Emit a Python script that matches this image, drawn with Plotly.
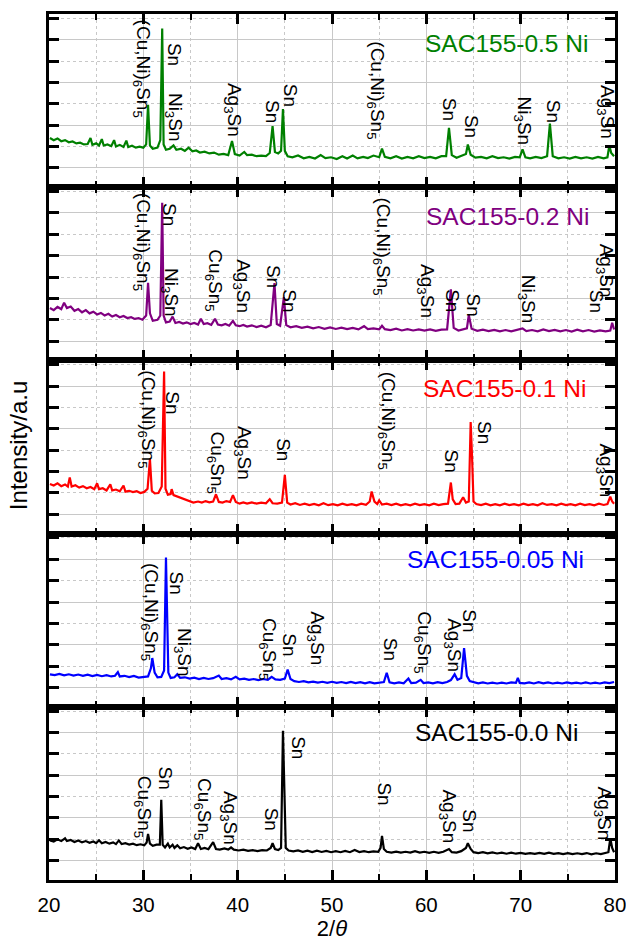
import plotly.graph_objects as go
from plotly.subplots import make_subplots

# ---------------- data (2theta in degrees, intensity in arbitrary panel units) ----------------
green_pts = [(20.1,2.40),(20.5,2.30),(20.9,2.38),(21.3,2.25),(21.7,2.30),(22.1,2.20),(22.5,2.24),(22.9,2.15),(23.3,2.18),(23.7,2.10),(24.1,2.12),(24.4,2.40),(24.6,2.08),(25.0,2.15),(25.3,2.05),(25.6,2.35),(25.8,2.05),(26.2,2.10),(26.6,2.02),(26.9,2.30),(27.1,2.00),(27.5,2.08),(27.9,1.98),(28.2,2.28),(28.4,1.98),(28.8,2.04),(29.2,1.95),(29.6,2.00),(30.0,1.95),(30.3,2.10),(30.5,3.95),(30.7,2.05),(31.0,1.90),(31.5,1.95),(31.8,2.30),(32.0,7.52),(32.15,2.10),(32.4,1.85),(32.8,1.90),(33.2,2.05),(33.5,1.85),(34.0,1.90),(34.4,1.80),(34.8,1.95),(35.2,1.78),(35.6,1.82),(36.0,1.72),(36.5,1.76),(37.0,1.68),(37.5,1.72),(38.0,1.62),(38.5,1.66),(39.0,1.60),(39.4,2.26),(39.7,1.65),(40.2,1.58),(40.7,1.75),(41.0,1.60),(41.5,1.62),(42.0,1.55),(42.5,1.58),(43.0,1.55),(43.4,1.70),(43.7,2.96),(43.95,1.75),(44.3,1.68),(44.6,1.80),(44.8,3.75),(45.0,1.80),(45.3,1.55),(45.8,1.50),(46.4,1.58),(47.0,1.45),(47.6,1.52),(48.2,1.44),(48.8,1.60),(49.3,1.46),(49.9,1.50),(50.5,1.42),(51.1,1.55),(51.6,1.44),(52.2,1.58),(52.7,1.45),(53.3,1.52),(53.8,1.46),(54.4,1.58),(55.0,1.50),(55.3,1.90),(55.6,1.52),(56.2,1.45),(56.8,1.55),(57.4,1.44),(58.0,1.52),(58.6,1.45),(59.2,1.55),(59.8,1.46),(60.4,1.52),(61.0,1.45),(61.6,1.55),(62.1,1.55),(62.4,2.88),(62.7,1.60),(63.2,1.48),(63.8,1.58),(64.2,1.65),(64.4,2.10),(64.7,1.62),(65.2,1.48),(65.8,1.52),(66.4,1.45),(67.0,1.55),(67.6,1.46),(68.2,1.50),(68.8,1.44),(69.4,1.52),(69.9,1.50),(70.2,1.87),(70.5,1.50),(71.0,1.45),(71.6,1.52),(72.2,1.46),(72.8,1.55),(73.1,3.07),(73.4,1.55),(74.0,1.45),(74.6,1.50),(75.2,1.44),(75.8,1.52),(76.4,1.45),(77.0,1.50),(77.6,1.44),(78.2,1.52),(78.8,1.45),(79.2,1.50),(79.4,2.05),(79.6,1.70),(79.9,1.55)]

purple_pts = [(20.1,2.55),(20.5,2.45),(20.9,2.60),(21.3,2.50),(21.6,2.80),(21.9,2.55),(22.3,2.62),(22.7,2.42),(23.1,2.50),(23.5,2.35),(23.9,2.45),(24.3,2.30),(24.7,2.38),(25.1,2.25),(25.5,2.32),(25.9,2.20),(26.3,2.28),(26.7,2.15),(27.1,2.22),(27.5,2.12),(27.9,2.18),(28.3,2.08),(28.7,2.12),(29.1,2.04),(29.5,2.08),(29.9,2.00),(30.3,2.20),(30.5,3.73),(30.7,2.30),(31.0,1.95),(31.5,2.00),(31.8,2.20),(32.0,7.47),(32.15,2.20),(32.4,1.88),(32.8,1.92),(33.1,2.15),(33.4,1.85),(33.8,1.90),(34.2,1.82),(34.6,1.88),(35.0,1.80),(35.4,1.85),(35.8,1.78),(36.1,2.05),(36.4,1.80),(36.8,1.84),(37.2,1.76),(37.6,2.05),(37.9,1.78),(38.3,1.74),(38.7,1.80),(39.1,1.72),(39.5,1.95),(39.8,1.74),(40.2,1.70),(40.6,1.76),(41.0,1.68),(41.5,1.74),(42.0,1.66),(42.5,1.72),(43.0,1.65),(43.5,1.75),(43.9,3.72),(44.15,1.80),(44.5,1.72),(44.9,3.06),(45.15,1.75),(45.6,1.65),(46.2,1.70),(46.8,1.62),(47.4,1.68),(48.0,1.60),(48.6,1.66),(49.2,1.58),(49.8,1.64),(50.4,1.57),(51.0,1.63),(51.6,1.56),(52.2,1.62),(52.8,1.55),(53.4,1.70),(53.8,1.56),(54.4,1.60),(55.0,1.55),(55.3,1.72),(55.6,1.56),(56.2,1.52),(56.8,1.58),(57.4,1.50),(58.0,1.56),(58.6,1.50),(59.2,1.55),(59.8,1.49),(60.4,1.55),(61.0,1.48),(61.6,1.54),(62.2,1.55),(62.6,3.42),(62.9,1.62),(63.4,1.50),(63.9,1.56),(64.3,1.60),(64.5,2.22),(64.8,1.58),(65.4,1.48),(66.0,1.54),(66.6,1.47),(67.2,1.53),(67.8,1.46),(68.4,1.52),(69.0,1.46),(69.6,1.52),(70.2,1.60),(70.6,1.47),(71.2,1.52),(71.8,1.46),(72.4,1.55),(73.0,1.47),(73.6,1.53),(74.2,1.46),(74.8,1.52),(75.4,1.45),(76.0,1.54),(76.6,1.46),(77.2,1.52),(77.8,1.45),(78.4,1.50),(79.0,1.46),(79.5,1.50),(79.7,1.86),(79.9,1.55)]

red_pts = [(20.1,2.42),(20.5,2.35),(20.9,2.45),(21.3,2.32),(21.7,2.40),(22.0,2.30),(22.2,2.73),(22.4,2.30),(22.8,2.36),(23.2,2.25),(23.6,2.32),(24.0,2.22),(24.4,2.28),(24.8,2.18),(25.1,2.45),(25.3,2.18),(25.7,2.22),(26.1,2.12),(26.5,2.40),(26.7,2.12),(27.1,2.16),(27.5,2.08),(27.9,2.35),(28.1,2.06),(28.5,2.10),(28.9,2.04),(29.3,2.08),(29.7,2.00),(30.1,2.05),(30.45,2.20),(30.7,3.59),(30.9,2.10),(31.2,1.98),(31.6,2.00),(31.95,2.30),(32.2,7.68),(32.35,2.20),(32.6,1.92),(32.9,1.95),(33.0,2.18),(33.2,1.90),(33.6,1.84),(34.0,1.78),(34.4,1.72),(34.8,1.66),(35.3,1.55),(35.8,1.60),(36.2,1.55),(36.6,1.62),(37.0,1.56),(37.4,1.60),(37.7,1.94),(38.0,1.58),(38.4,1.55),(38.8,1.62),(39.2,1.58),(39.5,1.90),(39.8,1.58),(40.2,1.50),(40.6,1.56),(41.0,1.50),(41.5,1.56),(42.0,1.50),(42.5,1.55),(43.0,1.52),(43.4,1.71),(43.7,1.52),(44.2,1.50),(44.7,1.55),(45.0,2.85),(45.25,1.55),(45.6,1.46),(46.1,1.52),(46.6,1.44),(47.1,1.50),(47.6,1.43),(48.1,1.49),(48.6,1.42),(49.1,1.52),(49.6,1.43),(50.1,1.48),(50.6,1.42),(51.1,1.50),(51.6,1.43),(52.1,1.48),(52.6,1.42),(53.1,1.50),(53.6,1.45),(54.0,1.60),(54.2,2.07),(54.5,1.60),(54.8,1.48),(55.0,1.65),(55.3,1.46),(55.8,1.50),(56.3,1.43),(56.8,1.50),(57.3,1.42),(57.8,1.48),(58.3,1.42),(58.8,1.50),(59.3,1.43),(59.8,1.48),(60.3,1.42),(60.8,1.50),(61.3,1.43),(61.8,1.48),(62.3,1.50),(62.6,2.49),(62.8,1.70),(63.1,1.48),(63.5,1.50),(63.9,1.80),(64.2,1.55),(64.5,1.60),(64.7,5.32),(64.85,3.65),(65.0,1.60),(65.3,1.48),(65.8,1.43),(66.3,1.50),(66.8,1.42),(67.3,1.48),(67.8,1.42),(68.3,1.50),(68.8,1.43),(69.3,1.48),(69.8,1.42),(70.3,1.50),(70.8,1.43),(71.3,1.48),(71.8,1.42),(72.3,1.52),(72.8,1.44),(73.3,1.48),(73.8,1.42),(74.3,1.50),(74.8,1.43),(75.3,1.48),(75.8,1.42),(76.3,1.50),(76.8,1.43),(77.3,1.48),(77.8,1.42),(78.3,1.50),(78.8,1.44),(79.2,1.48),(79.5,1.83),(79.7,1.60),(79.9,1.50)]

blue_pts = [(20.1,1.62),(20.6,1.58),(21.1,1.64),(21.6,1.57),(22.1,1.62),(22.6,1.56),(23.1,1.61),(23.6,1.55),(24.1,1.60),(24.6,1.54),(25.1,1.59),(25.6,1.53),(26.1,1.58),(26.6,1.52),(27.0,1.55),(27.3,1.72),(27.5,1.52),(28.0,1.55),(28.5,1.49),(29.0,1.54),(29.5,1.47),(30.0,1.50),(30.5,1.52),(30.8,1.90),(30.95,2.38),(31.2,1.70),(31.5,1.48),(31.9,1.50),(32.2,1.80),(32.4,7.08),(32.5,4.90),(32.65,1.70),(32.9,1.45),(33.3,1.48),(33.6,1.62),(33.9,1.45),(34.4,1.48),(34.9,1.42),(35.4,1.46),(35.9,1.40),(36.4,1.45),(36.9,1.40),(37.4,1.44),(38.0,1.56),(38.3,1.40),(38.8,1.44),(39.3,1.38),(39.8,1.50),(40.2,1.38),(40.7,1.42),(41.2,1.36),(41.7,1.40),(42.2,1.35),(42.7,1.40),(43.2,1.36),(43.6,1.50),(44.0,1.38),(44.5,1.36),(45.0,1.42),(45.3,1.84),(45.6,1.40),(46.0,1.30),(46.5,1.26),(47.0,1.30),(47.5,1.24),(48.0,1.28),(48.5,1.23),(49.0,1.27),(49.5,1.22),(50.0,1.27),(50.5,1.22),(51.0,1.26),(51.5,1.21),(52.0,1.26),(52.5,1.21),(53.0,1.25),(53.5,1.20),(54.0,1.25),(54.5,1.20),(55.0,1.24),(55.5,1.26),(55.8,1.69),(56.1,1.25),(56.6,1.20),(57.1,1.24),(57.6,1.20),(58.1,1.42),(58.4,1.21),(58.9,1.23),(59.4,1.36),(59.7,1.21),(60.2,1.24),(60.7,1.20),(61.2,1.25),(61.7,1.21),(62.2,1.26),(62.6,1.35),(63.0,1.62),(63.3,1.36),(63.7,1.45),(64.0,2.84),(64.15,2.20),(64.3,1.55),(64.6,1.30),(65.0,1.24),(65.5,1.20),(66.0,1.24),(66.5,1.19),(67.0,1.23),(67.5,1.19),(68.0,1.23),(68.5,1.19),(69.0,1.24),(69.5,1.22),(69.7,1.45),(69.9,1.22),(70.4,1.20),(70.9,1.24),(71.4,1.19),(71.9,1.25),(72.4,1.20),(72.9,1.24),(73.4,1.19),(73.9,1.23),(74.4,1.19),(74.9,1.24),(75.4,1.20),(75.9,1.23),(76.4,1.19),(76.9,1.24),(77.4,1.19),(77.9,1.23),(78.4,1.19),(78.9,1.24),(79.4,1.21),(79.9,1.26)]

black_pts = [(20.1,1.95),(20.5,1.90),(20.9,2.00),(21.3,1.92),(21.7,2.05),(21.9,1.92),(22.3,1.97),(22.7,1.88),(23.1,1.95),(23.5,1.86),(23.9,1.92),(24.3,1.84),(24.7,1.90),(25.0,1.82),(25.3,1.96),(25.6,1.82),(26.0,1.88),(26.4,1.80),(26.8,1.86),(27.1,1.78),(27.4,1.95),(27.7,1.78),(28.1,1.82),(28.5,1.76),(28.9,1.80),(29.3,1.73),(29.7,1.77),(30.1,1.72),(30.35,1.85),(30.5,2.25),(30.7,1.80),(31.0,1.70),(31.4,1.75),(31.75,1.75),(31.9,3.85),(32.05,1.75),(32.3,1.62),(32.6,1.80),(32.8,1.62),(33.1,1.75),(33.3,1.60),(33.6,1.72),(33.9,1.58),(34.3,1.64),(34.7,1.56),(35.1,1.62),(35.5,1.55),(35.8,1.82),(36.1,1.55),(36.5,1.60),(36.9,1.54),(37.4,1.87),(37.7,1.55),(38.1,1.52),(38.6,1.58),(39.0,1.52),(39.3,1.62),(39.6,1.52),(40.1,1.48),(40.6,1.52),(41.1,1.46),(41.6,1.50),(42.1,1.45),(42.6,1.50),(43.1,1.48),(43.5,1.60),(43.7,1.82),(43.95,1.55),(44.3,1.50),(44.6,1.60),(44.8,7.08),(44.95,4.60),(45.1,1.60),(45.4,1.48),(45.9,1.44),(46.4,1.48),(46.9,1.42),(47.4,1.47),(47.9,1.41),(48.4,1.47),(48.9,1.41),(49.4,1.46),(49.9,1.40),(50.4,1.45),(50.9,1.40),(51.4,1.46),(51.9,1.40),(52.4,1.50),(52.9,1.41),(53.4,1.45),(53.9,1.40),(54.4,1.44),(54.9,1.42),(55.15,1.60),(55.3,2.16),(55.5,1.55),(55.8,1.42),(56.3,1.38),(56.8,1.43),(57.3,1.38),(57.8,1.42),(58.3,1.38),(58.8,1.45),(59.3,1.38),(59.8,1.42),(60.3,1.37),(60.8,1.42),(61.3,1.37),(61.8,1.42),(62.4,1.55),(62.7,1.40),(63.2,1.38),(63.7,1.45),(64.2,1.60),(64.4,1.82),(64.7,1.55),(65.0,1.40),(65.5,1.36),(66.0,1.40),(66.5,1.35),(67.0,1.39),(67.5,1.34),(68.0,1.38),(68.5,1.33),(69.0,1.38),(69.5,1.33),(70.0,1.37),(70.5,1.32),(71.0,1.36),(71.5,1.32),(72.0,1.37),(72.5,1.32),(73.0,1.38),(73.5,1.32),(74.0,1.36),(74.5,1.31),(75.0,1.36),(75.5,1.31),(76.0,1.35),(76.5,1.31),(77.0,1.36),(77.5,1.30),(78.0,1.35),(78.5,1.31),(79.0,1.35),(79.3,1.40),(79.5,2.05),(79.7,1.60),(79.9,1.40)]

CUNI = "(Cu,Ni)<sub>6</sub>Sn<sub>5</sub>"
CU6 = "Cu<sub>6</sub>Sn<sub>5</sub>"
AG3 = "Ag<sub>3</sub>Sn"
NI3 = "Ni<sub>3</sub>Sn"
SN = "Sn"

# phase labels: text, x (deg) of label centre, y (panel units) of label top
green_labels = [(CUNI,29.8,8.01),(SN,33.25,6.92),(NI3,33.25,4.58),(AG3,39.45,5.05),(SN,43.7,4.27),(SN,45.55,5.05),
                (CUNI,54.7,7.00),(SN,62.4,4.35),(SN,64.8,3.57),(NI3,70.2,4.43),(SN,73.5,4.27),(AG3,79.05,4.97)]
purple_labels = [(CUNI,29.8,8.01),(SN,32.7,7.54),(NI3,32.8,4.50),(CU6,37.4,5.38),(AG3,40.5,4.91),(SN,43.75,4.68),
                 (SN,45.4,3.51),(CUNI,55.3,7.81),(AG3,59.9,4.68),(SN,62.7,3.51),(SN,65.1,3.32),(NI3,70.7,4.21),
                 (AG3,78.9,5.67),(SN,78.0,3.51)]
red_labels = [(CUNI,30.45,7.85),(SN,33.0,6.84),(CU6,37.7,4.97),(AG3,40.5,5.21),(SN,44.85,4.66),
              (CUNI,55.8,7.78),(SN,62.7,4.11),(SN,66.1,5.44),(AG3,78.9,4.43)]
blue_labels = [(CUNI,30.7,6.92),(SN,33.5,6.53),(NI3,34.15,3.88),(CU6,43.2,4.35),(SN,45.55,3.65),(AG3,48.3,4.66),
               (SN,56.2,3.42),(CU6,59.65,4.66),(AG3,62.8,4.35),(SN,64.6,4.74)]
black_labels = [(CU6,29.9,5.05),(SN,32.3,5.52),(CU6,36.3,4.97),(AG3,39.1,4.35),(SN,43.6,3.57),(SN,46.45,6.92),
                (SN,55.6,4.74),(AG3,62.3,4.43),(SN,64.6,3.49),(AG3,78.7,4.58)]

sample_names = ["SAC155-0.5 Ni", "SAC155-0.2 Ni", "SAC155-0.1 Ni", "SAC155-0.05 Ni", "SAC155-0.0 Ni"]
sample_colors = ["#008000", "#800080", "#ff0000", "#0000ff", "#000000"]
name_pos = [(77.35, 6.83), (77.45, 6.83), (77.15, 6.90), (76.93, 7.01), (76.3, 6.98)]
series = [green_pts, purple_pts, red_pts, blue_pts, black_pts]
labels = [green_labels, purple_labels, red_labels, blue_labels, black_labels]

x_ticks = [20, 30, 40, 50, 60, 70, 80]

FONT = "Liberation Sans, Arial, Helvetica, sans-serif"
GRID = "#c8c8c8"

fig = make_subplots(rows=5, cols=1, vertical_spacing=0)

for i, (pts, col) in enumerate(zip(series, sample_colors)):
    r = i + 1
    fig.add_trace(go.Scatter(x=[p[0] for p in pts], y=[p[1] for p in pts], mode="lines",
                             line=dict(color=col, width=2.2), showlegend=False, hoverinfo="skip"),
                  row=r, col=1)
    fig.update_xaxes(range=[20, 80], tickvals=x_ticks, ticks="inside", ticklen=10, tickwidth=2.5,
                     tickcolor="black", showline=True, linewidth=3, linecolor="black", mirror="ticks",
                     showgrid=True, gridcolor=GRID, gridwidth=1, automargin=False,
                     ticklabeloverflow="allow",
                     minor=dict(dtick=5, tick0=20, ticks="inside", ticklen=6, tickwidth=2, tickcolor="black",
                                showgrid=True, gridcolor=GRID, griddash="dot", gridwidth=1),
                     showticklabels=(r == 5), zeroline=False,
                     tickfont=dict(family=FONT, size=20.5, color="black"),
                     row=r, col=1)
    fig.update_yaxes(range=[0.1, 8.2], tick0=1, dtick=2, ticks="inside", ticklen=10, tickwidth=2.5,
                     tickcolor="black", showline=True, linewidth=3, linecolor="black", mirror="ticks",
                     showgrid=True, gridcolor=GRID, gridwidth=1, showticklabels=False, zeroline=False,
                     automargin=False,
                     minor=dict(dtick=1, tick0=0, ticks="inside", ticklen=10, tickwidth=2.5, tickcolor="black",
                                showgrid=True, gridcolor=GRID, griddash="dot", gridwidth=1),
                     row=r, col=1)
    xr = "x" if r == 1 else f"x{r}"
    yr = "y" if r == 1 else f"y{r}"
    for (txt, lx, ly) in labels[i]:
        fig.add_annotation(text=txt, x=lx, y=ly, xref=xr, yref=yr, textangle=90, showarrow=False,
                           xanchor="center", yanchor="top",
                           font=dict(family=FONT, size=19, color="black"))
    nx, ny = name_pos[i]
    fig.add_annotation(text=sample_names[i], x=nx, y=ny, xref=xr, yref=yr, showarrow=False,
                       xanchor="right", yanchor="middle",
                       font=dict(family=FONT, size=24.5, color=col))

fig.update_xaxes(title=dict(text="2/<i>θ</i>", font=dict(family=FONT, size=22, color="black"), standoff=4),
                 ticklabelstandoff=4, row=5, col=1)

fig.add_annotation(text="Intensity/a.u", xref="paper", yref="paper", x=-0.055, y=0.502,
                   textangle=-90, showarrow=False, xanchor="center", yanchor="middle",
                   font=dict(family=FONT, size=24, color="black"))

fig.update_layout(width=626, height=944, margin=dict(l=49, r=11, t=14, b=64, autoexpand=False),
                  plot_bgcolor="white", paper_bgcolor="white", font=dict(family=FONT))

fig.write_html("out.html", config={"displayModeBar": False},
               post_script="document.body.style.margin='0px';document.body.style.overflow='hidden';")
